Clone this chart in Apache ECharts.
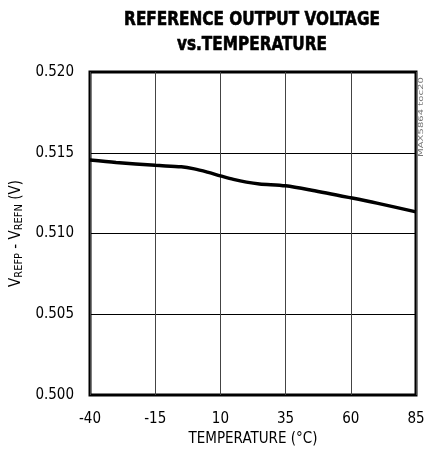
<!DOCTYPE html>
<html>
<head>
<meta charset="utf-8">
<script src="https://cdn.jsdelivr.net/npm/echarts@6/dist/echarts.min.js"></script>
<style>
  html, body { margin: 0; padding: 0; background: #fff; }
  #chart { width: 425px; height: 453px; }
</style>
</head>
<body>
<div id="chart"></div>
<script>
// Reference voltage (V) across the operating temperature range
const temperatureC = [-40, -30, -15, -5, 0, 5, 10, 15, 20, 25, 35, 45, 60, 70, 85];
const vrefDiff = [0.51455, 0.51440, 0.51422, 0.51413, 0.51400, 0.51380, 0.51357, 0.51335, 0.51318, 0.51307, 0.51295, 0.51268, 0.51221, 0.51188, 0.51134];
const xTicks = { min: -40, max: 85, step: 25 };
const yTicks = { min: 0.500, max: 0.520, step: 0.005 };

const narrow = "'DejaVu Sans Condensed', 'Liberation Sans', sans-serif";

const chart = echarts.init(document.getElementById('chart'), null, { renderer: 'canvas' });

chart.setOption({
  animation: false,
  backgroundColor: '#fff',
  grid: {
    left: 90, top: 72, width: 326, height: 323,
    containLabel: false, outerBoundsMode: 'none',
    show: true, borderColor: '#000', borderWidth: 3, backgroundColor: 'transparent'
  },
  graphic: [
    {
      type: 'text', x: 252, y: 10, scaleX: 0.85,
      style: {
        text: 'REFERENCE OUTPUT VOLTAGE', textAlign: 'center',
        fill: '#000', font: 'bold 20px ' + narrow,
        stroke: '#000', lineWidth: 0.6
      }
    },
    {
      type: 'text', x: 252, y: 35, scaleX: 0.85,
      style: {
        text: 'vs.TEMPERATURE', textAlign: 'center',
        fill: '#000', font: 'bold 20px ' + narrow,
        stroke: '#000', lineWidth: 0.6
      }
    },
    {
      type: 'text', x: 418, y: 157, rotation: Math.PI / 2, scaleX: 1.6,
      style: {
        text: 'MAX5864 toc20', fill: '#777',
        font: '7px ' + narrow
      }
    }
  ],
  xAxis: {
    type: 'value',
    min: xTicks.min, max: xTicks.max, interval: xTicks.step,
    name: 'TEMPERATURE (°C)',
    nameLocation: 'middle', nameGap: 34,
    nameTextStyle: { fontFamily: narrow, fontSize: 15, color: '#000' },
    axisLine: { show: false },
    axisTick: { show: false },
    axisLabel: { fontFamily: narrow, fontSize: 15, color: '#000', margin: 17 },
    splitLine: { show: true, lineStyle: { color: '#444', width: 1 } }
  },
  yAxis: {
    type: 'value',
    min: yTicks.min, max: yTicks.max, interval: yTicks.step,
    name: 'V{sub|REFP} - V{sub|REFN} (V)',
    nameLocation: 'middle', nameGap: 60, nameRotate: 90,
    nameTextStyle: {
      fontFamily: narrow, fontSize: 15, color: '#000',
      rich: {
        sub: { fontFamily: narrow, fontSize: 11, color: '#000', padding: [6, 0, 0, 0], verticalAlign: 'bottom' }
      }
    },
    axisLine: { show: false },
    axisTick: { show: false },
    axisLabel: {
      fontFamily: narrow, fontSize: 15, color: '#000', margin: 16,
      formatter: v => v.toFixed(3)
    },
    splitLine: { show: true, lineStyle: { color: '#000', width: 1 } }
  },
  series: [{
    type: 'line',
    data: temperatureC.map((t, i) => [t, vrefDiff[i]]),
    smooth: 0.3,
    showSymbol: false,
    lineStyle: { color: '#000', width: 3.5 },
    z: 5
  }]
});
</script>
</body>
</html>
